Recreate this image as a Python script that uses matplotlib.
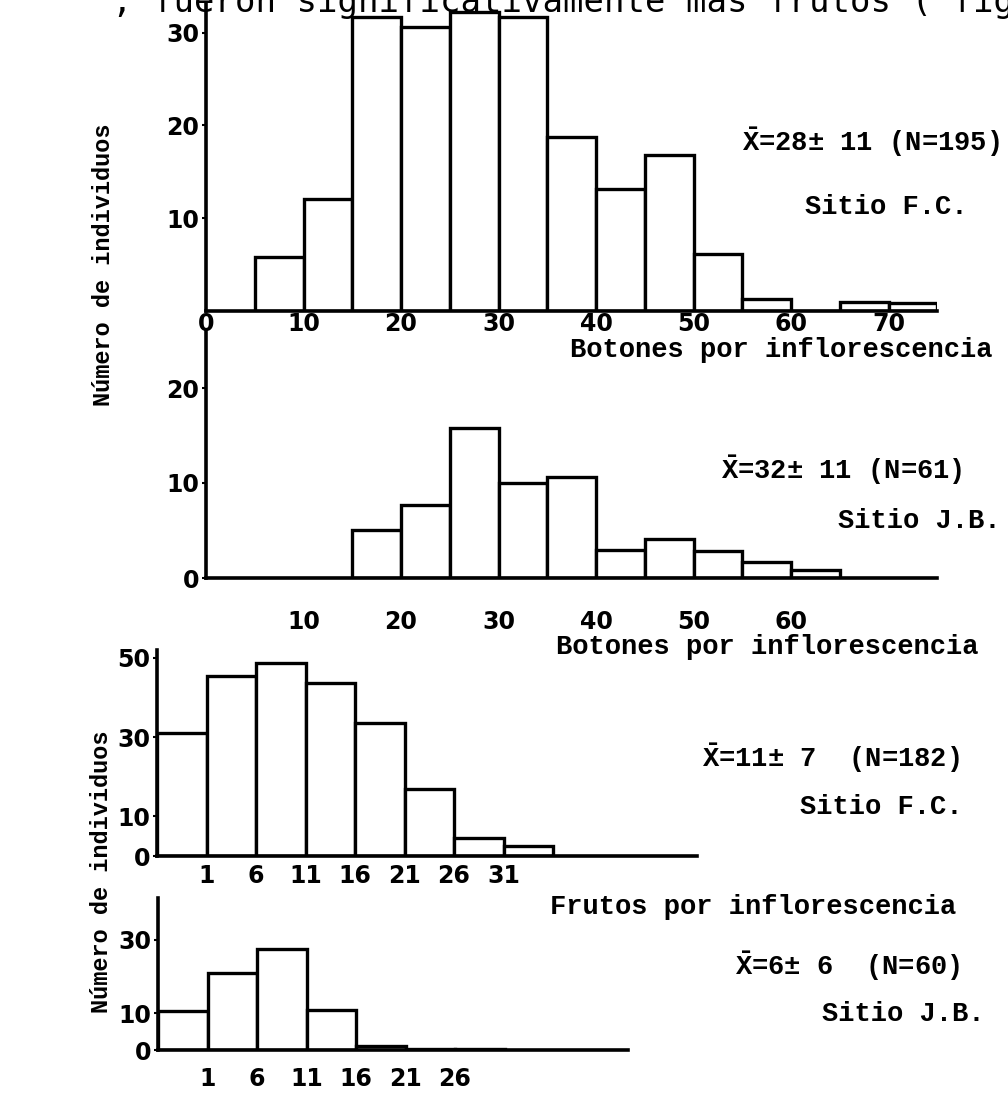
import matplotlib
matplotlib.use("Agg")
import matplotlib.pyplot as plt
import numpy as np

plt.rcParams["mathtext.fontset"] = "custom"
plt.rcParams["mathtext.rm"] = "Liberation Mono:bold"
plt.rcParams["mathtext.bf"] = "Liberation Mono:bold"

# ---- data -------------------------------------------------------------
# Botones por inflorescencia, Sitio F.C. (bin edges and number of individuals)
botones_fc_edges = [5, 10, 15, 20, 25, 30, 35, 40, 45, 50, 55, 60, 65, 70, 75]
botones_fc_counts = [5.8, 12.1, 31.7, 30.6, 32.2, 31.7, 18.8, 13.2, 16.8, 6.1, 1.3, 0, 1.0, 0.9]
botones_fc_xticks = [0, 10, 20, 30, 40, 50, 60, 70]
botones_fc_yticks = [10, 20, 30]

# Botones por inflorescencia, Sitio J.B.
botones_jb_edges = [15, 20, 25, 30, 35, 40, 45, 50, 55, 60, 65]
botones_jb_counts = [5.1, 7.7, 15.8, 10, 10.6, 3.0, 4.1, 2.8, 1.7, 0.8]
botones_jb_xticks = [10, 20, 30, 40, 50, 60]
botones_jb_yticks = [0, 10, 20]

# Frutos por inflorescencia, Sitio F.C.
frutos_fc_edges = [-4, 1, 6, 11, 16, 21, 26, 31, 36]
frutos_fc_counts = [31, 45.5, 48.7, 43.6, 33.5, 17, 4.5, 2.5]
frutos_fc_xticks = [1, 6, 11, 16, 21, 26, 31]
frutos_fc_yticks = [0, 10, 30, 50]

# Frutos por inflorescencia, Sitio J.B.
frutos_jb_edges = [-4, 1, 6, 11, 16, 21, 26, 31]
frutos_jb_counts = [10.5, 21, 27.5, 11, 1.2, 0.4, 0.3]
frutos_jb_xticks = [1, 6, 11, 16, 21, 26]
frutos_jb_yticks = [0, 10, 30]

XBAR = r"$\bar{\mathrm{X}}$"
stats = {
    "bfc": (XBAR + "=28\u00b1 11 (N=195)", "Sitio F.C."),
    "bjb": (XBAR + "=32\u00b1 11 (N=61)", "Sitio J.B."),
    "ffc": (XBAR + "=11\u00b1 7  (N=182)", "Sitio F.C."),
    "fjb": (XBAR + "=6\u00b1 6  (N=60)", "Sitio J.B."),
}

# ---- layout helpers ---------------------------------------------------
W, H = 1008, 1111
fig = plt.figure(figsize=(W / 100, H / 100), dpi=100)
fig.patch.set_facecolor("white")

TYPE = ["Liberation Mono", "DejaVu Sans Mono"]
NUM = ["DejaVu Sans"]


def fx(x):
    return x / W


def fy(y):
    return 1 - y / H


def make_axes(x0, x1, y0, y1):
    """Axes from pixel box: x0/x1 left/right, y0 top, y1 bottom."""
    return fig.add_axes([fx(x0), fy(y1), (x1 - x0) / W, (y1 - y0) / H])


def histogram(ax, edges, counts, xlim, ylim, xticks, yticks, xpad, ypad=2):
    edges = np.asarray(edges, float)
    ax.bar(edges[:-1], counts, width=np.diff(edges), align="edge",
           facecolor="white", edgecolor="black", linewidth=2.4, zorder=2)
    ax.set_xlim(*xlim)
    ax.set_ylim(*ylim)
    for s in ("top", "right"):
        ax.spines[s].set_visible(False)
    for s in ("left", "bottom"):
        ax.spines[s].set_linewidth(2.6)
        ax.spines[s].set_zorder(3)
    ax.set_xticks(xticks)
    ax.set_yticks(yticks)
    ax.tick_params(axis="x", length=0, pad=xpad)
    ax.tick_params(axis="y", length=3, width=1.5, pad=ypad)
    for lab in ax.get_xticklabels() + ax.get_yticklabels():
        lab.set_family(NUM)
        lab.set_fontweight("bold")
        lab.set_fontsize(17)
    ax.patch.set_alpha(0)


# Panel 1: Botones, F.C.
ax1 = make_axes(206, 206 + 75 * 9.75, 3, 311)
histogram(ax1, botones_fc_edges, botones_fc_counts, (0, 75), (0, 33.2),
          botones_fc_xticks, botones_fc_yticks, xpad=1)

# Panel 2: Botones, J.B.
ax2 = make_axes(206, 206 + 75 * 9.75, 331, 578)
histogram(ax2, botones_jb_edges, botones_jb_counts, (0, 75), (0, 26),
          botones_jb_xticks, botones_jb_yticks, xpad=23)

# Panel 3: Frutos, F.C.
ax3 = make_axes(157, 157 + 54.5 * 9.9, 650, 856)
histogram(ax3, frutos_fc_edges, frutos_fc_counts, (-4, 50.5), (0, 52),
          frutos_fc_xticks, frutos_fc_yticks, xpad=6)

# Panel 4: Frutos, J.B.
ax4 = make_axes(158, 158 + 47.5 * 9.9, 898, 1050)
histogram(ax4, frutos_jb_edges, frutos_jb_counts, (-4, 43.5), (0, 41.4),
          frutos_jb_xticks, frutos_jb_yticks, xpad=12)

# ---- annotations -------------------------------------------------------
def label(x, y, s, size=19.5, ha="left", rot=0, weight="bold"):
    fig.text(fx(x), fy(y), s, ha=ha, va="center", rotation=rot,
             family=TYPE, fontweight=weight, fontsize=size)


label(742, 142, stats["bfc"][0])
label(805, 207, stats["bfc"][1])
label(570, 350, "Botones por inflorescencia")

label(721, 470, stats["bjb"][0])
label(1000, 521, stats["bjb"][1], ha="right")
label(556, 647, "Botones por inflorescencia")

label(702, 758, stats["ffc"][0])
label(800, 807, stats["ffc"][1])
label(550, 907, "Frutos por inflorescencia")

label(735, 966, stats["fjb"][0])
label(985, 1014, stats["fjb"][1], ha="right")

label(92, 265, "Número de individuos", size=17, rot=90)
label(90, 872, "Número de individuos", size=17, rot=90)

# running text of the page, cut at the upper edge
fig.text(fx(112), fy(12), ", fueron significativamente mas frutos ( figura",
         ha="left", va="baseline", family=["DejaVu Sans Mono"], fontsize=24.5)

fig.savefig("out.png", dpi=100, facecolor="white")
